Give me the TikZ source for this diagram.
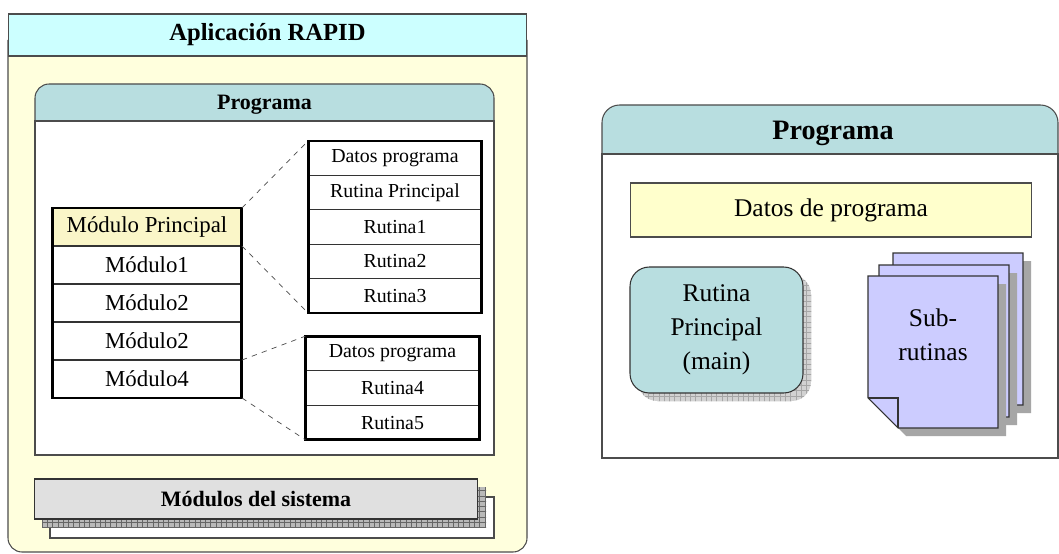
\documentclass[tikz,border=0pt]{standalone}
\usepackage{fontspec}
\setmainfont{Liberation Serif}
\usetikzlibrary{patterns}

\definecolor{crema}{RGB}{255,255,221}
\definecolor{cian}{RGB}{204,255,255}
\definecolor{azul}{RGB}{184,222,224}
\definecolor{amarillo}{RGB}{250,246,200}
\definecolor{datos}{RGB}{255,255,204}
\definecolor{gris}{RGB}{224,224,224}
\definecolor{lila}{RGB}{204,204,255}

\begin{document}
\begin{tikzpicture}[x=0.02cm, y=-0.02cm,
	fila/.style={draw=black!80, line width=0.6pt, outer sep=0pt, inner sep=0pt},
	modulo/.style={fila, minimum width=3.8cm, minimum height=0.76cm, font=\fontsize{13}{15}\selectfont},
	rutina/.style={fila, minimum width=3.48cm, minimum height=0.688cm, font=\fontsize{11.3}{13}\selectfont},
	marco/.style={draw=black!70, line width=0.6pt},
	titulo/.style={font=\fontsize{12.5}{14}\bfseries\selectfont}]

	\useasboundingbox (0,0) rectangle (1059,554);

	% Diagrama de la izquierda
	\draw[marco, fill=crema, rounded corners=8pt] (8,40) -- (8,552) -- (527,552) -- (527,40);
	\node[marco, fill=cian, minimum width=10.38cm, minimum height=0.84cm, font=\fontsize{14}{16}\bfseries\selectfont] (app) at (267.5,35) {Aplicación RAPID};

	\draw[marco, fill=white] (35,121) rectangle (494,455);
	\draw[marco, fill=azul, rounded corners=8pt] (35,121) -- (35,84) -- (494,84) -- (494,121);
	\draw[marco] (35,121) -- (494,121);
	\node[titulo] (prog) at (264.5,105) {Programa};

	% Modulos
	\node[modulo, fill=amarillo] (mp) at (147,227) {Módulo Principal};
	\foreach \t [count=\i] in {Módulo1, Módulo2, Módulo2, Módulo4} {
		\node[modulo] (m\i) at (147,227+38*\i) {\t};
	}
	\draw[line width=1.7pt] (mp.north west) rectangle (m4.south east);

	% Rutinas
	\node[rutina] (d1) at (395,158.2) {Datos programa};
	\foreach \t/\n [count=\i] in {Rutina Principal/rp, Rutina1/r1, Rutina2/r2, Rutina3/r3} {
		\node[rutina] (\n) at (395,158.2+34.4*\i) {\t};
	}
	\draw[line width=1.7pt] (d1.north west) rectangle (r3.south east);

	\node[rutina] (d2) at (392.5,353.3) {Datos programa};
	\node[rutina] (r4) at (392.5,388) {Rutina4};
	\node[rutina] (r5) at (392.5,422.7) {Rutina5};
	\draw[line width=1.7pt] (d2.north west) rectangle (r5.south east);

	\draw[dashed, black!70] (mp.north east) -- (d1.north west);
	\draw[dashed, black!70] (m1.north east) -- (r3.south west);
	\draw[dashed, black!70] (m4.north east) -- (d2.north west);
	\draw[dashed, black!70] (m4.south east) -- (r5.south west);

	% Modulos del sistema
	\draw[marco, fill=white] (50,497) rectangle (494,538);
	\fill[gray!55] (42,487) rectangle (486,527);
	\fill[pattern=grid, pattern color=black!60] (42,487) rectangle (486,527);
	\node[marco, draw=black!80, fill=gris, minimum width=8.88cm, minimum height=0.8cm, titulo] (sis) at (256,499) {Módulos del sistema};

	% Diagrama de la derecha
	\draw[marco, fill=white] (602,154) rectangle (1058,458);
	\draw[marco, fill=azul, rounded corners=10pt] (602,154) -- (602,105) -- (1058,105) -- (1058,154);
	\draw[marco] (602,154) -- (1058,154);
	\node[font=\fontsize{16}{18}\bfseries\selectfont] (prog2) at (833,133) {Programa};

	\node[marco, fill=datos, minimum width=8.04cm, minimum height=1.08cm, font=\fontsize{14.5}{17}\selectfont] (datos) at (831,210) {Datos de programa};

	\fill[gray!35, rounded corners=11pt] (638,275) rectangle (811,401);
	\fill[pattern=grid, pattern color=gray!70, rounded corners=11pt] (638,275) rectangle (811,401);
	\node[marco, draw=black!80, fill=azul, rounded corners=11pt, minimum width=3.46cm, minimum height=2.52cm, align=center, font=\fontsize{14.5}{19.5}\selectfont] (main) at (716.5,330) {Rutina\\Principal\\(main)};

	% Hojas
	\foreach \dx/\dy in {25/-23, 11/-11} {
		\fill[gray!70] (1006+\dx,284+\dy) -- (1006+\dx,436+\dy) -- (906+\dx,436+\dy) -- (898+\dx,428+\dy) -- (998+\dx,428+\dy) -- (998+\dx,284+\dy) -- cycle;
		\draw[marco, draw=black!80, fill=lila] (868+\dx,276+\dy) -- (998+\dx,276+\dy) -- (998+\dx,428+\dy) -- (898+\dx,428+\dy) -- (868+\dx,398+\dy) -- cycle;
	}
	\fill[gray!70] (1006,284) -- (1006,436) -- (906,436) -- (898,428) -- (998,428) -- (998,284) -- cycle;
	\draw[marco, draw=black!80, fill=lila] (868,276) -- (998,276) -- (998,428) -- (898,428) -- (868,398) -- cycle;
	\draw[marco, draw=black!80] (868,398) -- (898,398) -- (898,428);
	\node[align=center, font=\fontsize{14.5}{19.5}\selectfont] (sub) at (933,335) {Sub-\\rutinas};
\end{tikzpicture}
\end{document}
